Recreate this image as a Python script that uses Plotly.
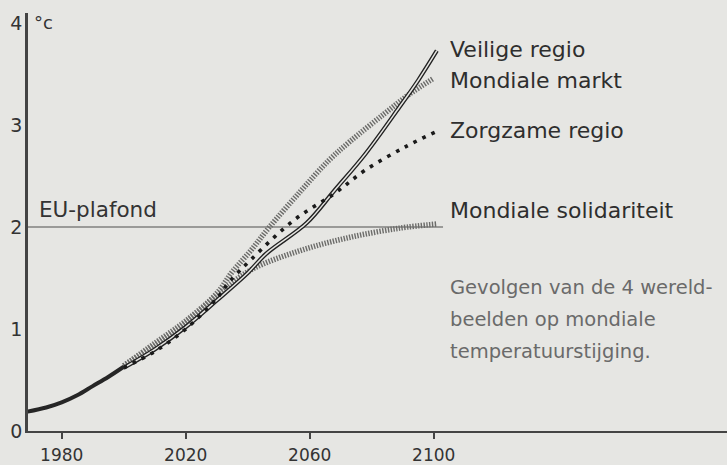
import plotly.graph_objects as go

# Historical common trunk
hist_years = [1969, 1975, 1980, 1985, 1990, 1995, 2000]
hist_vals = [0.19, 0.23, 0.28, 0.35, 0.44, 0.53, 0.63]

# Scenarios
markt_years = [2000, 2010, 2020, 2030, 2035, 2041, 2047, 2057, 2066, 2073, 2084, 2092, 2100]
markt_vals = [0.64, 0.86, 1.08, 1.35, 1.56, 1.77, 2.0, 2.35, 2.65, 2.84, 3.11, 3.3, 3.46]

veilig_years = [2000, 2010, 2020, 2030, 2040, 2046, 2059, 2068, 2078, 2089, 2095, 2101]
veilig_vals = [0.62, 0.8, 1.02, 1.28, 1.55, 1.74, 2.04, 2.36, 2.72, 3.18, 3.44, 3.73]

zorg_years = [2000, 2010, 2020, 2030, 2034, 2041, 2055, 2068, 2078, 2091, 2101]
zorg_vals = [0.62, 0.78, 1.0, 1.3, 1.46, 1.68, 2.07, 2.33, 2.56, 2.79, 2.94]

solid_years = [2000, 2010, 2020, 2030, 2041, 2057, 2073, 2089, 2101]
solid_vals = [0.64, 0.84, 1.06, 1.33, 1.58, 1.77, 1.9, 1.99, 2.03]

eu_years = [1969, 2103]
eu_vals = [2.0, 2.0]

x_ticks = [1980, 2020, 2060, 2100]
y_ticks = [0, 1, 2, 3, 4]

labels = ["Veilige regio", "Mondiale markt", "Zorgzame regio", "Mondiale solidariteit"]
label_y = [3.74, 3.44, 2.95, 2.16]

caption_lines = ["Gevolgen van de 4 wereld-", "beelden op mondiale", "temperatuurstijging."]
caption_y = [1.41, 1.09, 0.775]

BG = "#e6e6e3"
FONT = "DejaVu Sans, Liberation Sans, Arial, sans-serif"

fig = go.Figure()

# EU ceiling
fig.add_trace(go.Scatter(x=eu_years, y=eu_vals, mode="lines",
                         line=dict(color="#9a9a98", width=2), hoverinfo="skip"))

HATCH = dict(color="#6c6c6a", width=5.5, dash="1.4px,1.4px")
# hatched: solidariteit
fig.add_trace(go.Scatter(x=solid_years, y=solid_vals, mode="lines", line_shape="spline",
                         line=HATCH, hoverinfo="skip"))
# hatched: markt
fig.add_trace(go.Scatter(x=markt_years, y=markt_vals, mode="lines", line_shape="spline",
                         line=HATCH, hoverinfo="skip"))
# double line: veilig
fig.add_trace(go.Scatter(x=veilig_years, y=veilig_vals, mode="lines", line_shape="spline",
                         line=dict(color="#222222", width=4.2), hoverinfo="skip"))
fig.add_trace(go.Scatter(x=veilig_years, y=veilig_vals, mode="lines", line_shape="spline",
                         line=dict(color=BG, width=1.5), hoverinfo="skip"))
# dotted: zorgzaam
fig.add_trace(go.Scatter(x=zorg_years, y=zorg_vals, mode="lines", line_shape="spline",
                         line=dict(color="#1a1a1a", width=3.6, dash="3.6px,6.4px"), hoverinfo="skip"))
# historical trunk
fig.add_trace(go.Scatter(x=hist_years, y=hist_vals, mode="lines", line_shape="spline",
                         line=dict(color="#262626", width=4), hoverinfo="skip"))

annotations = []
for txt, yv in zip(labels, label_y):
    annotations.append(dict(x=2104.7, y=yv, xref="x", yref="y", text=txt, showarrow=False,
                            xanchor="left", yanchor="middle",
                            font=dict(family=FONT, size=22, color="#2e2e2e")))
for txt, yv in zip(caption_lines, caption_y):
    annotations.append(dict(x=2104.7, y=yv, xref="x", yref="y", text=txt, showarrow=False,
                            xanchor="left", yanchor="middle",
                            font=dict(family=FONT, size=19.5, color="#6a6a6a")))
annotations.append(dict(x=1972.0, y=2.0, xref="x", yref="y", text="EU-plafond", showarrow=False,
                        xanchor="left", yanchor="bottom", yshift=3,
                        font=dict(family=FONT, size=21.5, color="#333333")))
annotations.append(dict(x=1970.3, y=4.01, xref="x", yref="y", text="°c", showarrow=False,
                        xanchor="left", yanchor="middle",
                        font=dict(family=FONT, size=18, color="#333333")))

fig.update_layout(
    template="none",
    width=727, height=465,
    margin=dict(l=28, r=0, t=13, b=34, autoexpand=False),
    paper_bgcolor=BG, plot_bgcolor=BG,
    showlegend=False,
    annotations=annotations,
    xaxis=dict(range=[1969.13, 2194.6], tickvals=x_ticks, ticktext=[str(v) for v in x_ticks],
               showgrid=False, zeroline=False, showline=True, linecolor="#444444", linewidth=2,
               ticks="outside", ticklen=6, tickwidth=2, tickcolor="#444444",
               ticklabelstandoff=2, automargin=False,
               tickfont=dict(family=FONT, size=17, color="#333333")),
    yaxis=dict(range=[0, 4.1], tickvals=y_ticks, ticktext=[str(v) for v in y_ticks],
               showgrid=False, zeroline=False, showline=True, linecolor="#444444", linewidth=2.5,
               ticks="", automargin=False, ticklabelstandoff=-1,
               tickfont=dict(family=FONT, size=19, color="#333333")),
)

fig.write_html("out.html", config={"displayModeBar": False},
               post_script="document.body.style.margin='0';document.body.style.background='%s';" % BG)
